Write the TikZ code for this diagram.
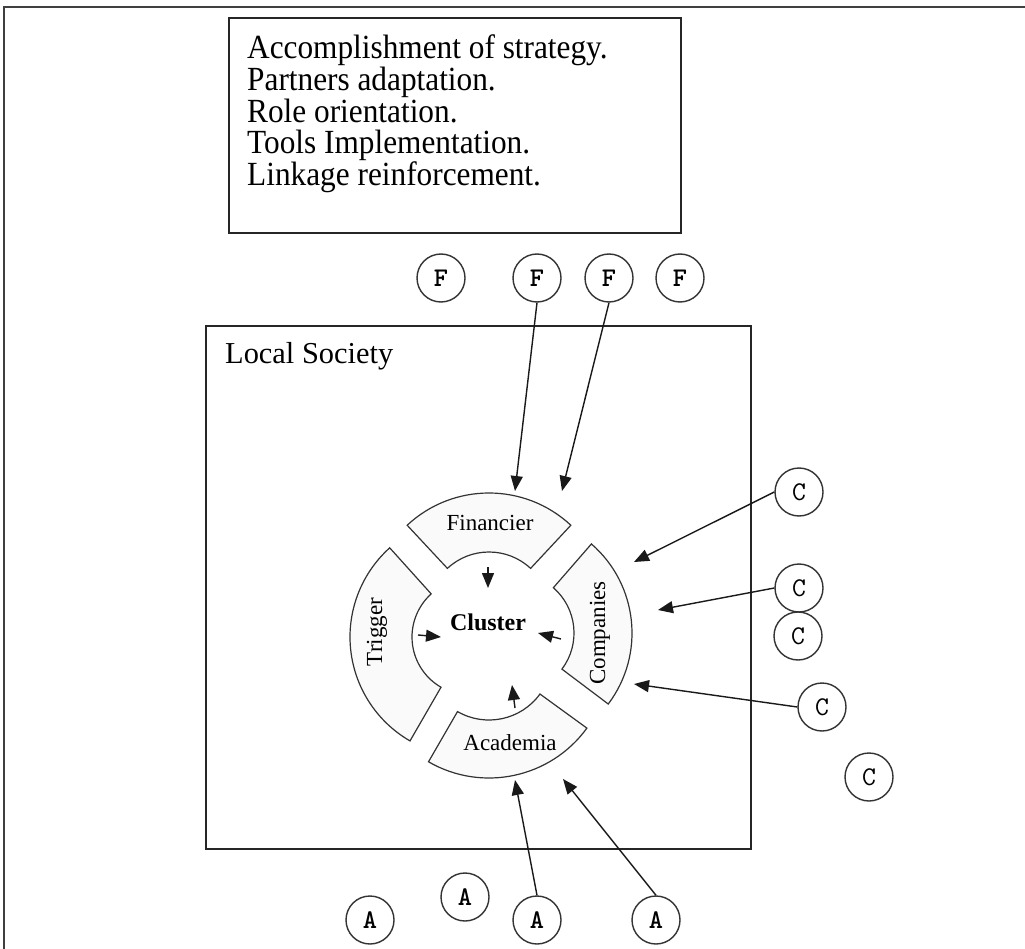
\documentclass[tikz,border=0pt]{standalone}
\usepackage{fontspec}
\usepackage{graphicx}
\setmainfont{Liberation Serif}
\usetikzlibrary{arrows.meta}
\begin{document}
\begin{tikzpicture}[x=1pt,y=-1pt,
  edgeline/.style={draw=black!75, line width=2pt},
  panel/.style={draw=black!85, line width=1.8pt, rectangle, inner sep=0pt},
  ring/.style={draw=black!80, line width=1.2pt, fill=black!2},
  token/.style={circle, draw=black!80, line width=1.4pt, minimum size=48pt,
    inner sep=0pt, fill=white, font=\ttfamily\fontsize{27}{27}\selectfont},
  boldtoken/.style={token, font=\ttfamily\bfseries\fontsize{27}{27}\selectfont},
  link/.style={draw=black!90, line width=1.4pt, -{Triangle[length=15pt,width=12pt]}},
  word/.style={inner sep=0pt, font=\fontsize{23}{23}\selectfont},
]
\useasboundingbox (0,0) rectangle (1025,949);
\fill[white] (0,0) rectangle (1025,949);
% page edges
\draw[edgeline] (4,949) -- (4,7) -- (1025,7);

% goals box
\node[panel, minimum width=452pt, minimum height=215pt, anchor=north west] (goals) at (228,17) {};
\node[anchor=north west, inner sep=0pt] (goaltext) at (247,35)
  {\scalebox{1}[1.08]{\parbox[t]{420pt}{\raggedright\fontsize{31.3}{29.3}\selectfont
   Accomplishment of strategy.\\Partners adaptation.\\Role orientation.\\Tools Implementation.\\Linkage reinforcement.}}};

% local society frame
\node[panel, minimum width=545pt, minimum height=523pt, anchor=north west] (society) at (205,325) {};
\node[anchor=base west, inner sep=0pt, font=\fontsize{30.4}{30}\selectfont] (societytext) at (225,363) {Local Society};

% ring segments around the cluster
\path[ring, shift={(489,613)}] (-133:120) arc[start angle=-133, end angle=-47, radius=120]
  -- (-47:61) arc[start angle=-47, end angle=-133, radius=61] -- cycle;
\path[ring, shift={(514,633)}] (-49:118) arc[start angle=-49, end angle=37, radius=118]
  -- (37:60) arc[start angle=37, end angle=-49, radius=60] -- cycle;
\path[ring, shift={(470,637)}] (120:120) arc[start angle=120, end angle=228, radius=120]
  -- (228:58) arc[start angle=228, end angle=120, radius=58] -- cycle;
\path[ring, shift={(489,657)}] (36:121) arc[start angle=36, end angle=120, radius=121]
  -- (120:63) arc[start angle=120, end angle=36, radius=63] -- cycle;

\node[word, anchor=base] (fin) at (490,530) {Financier};
\node[word, anchor=base] (aca) at (510,750) {Academia};
\node[word, anchor=base, rotate=90] (trg) at (382,632) {Trigger};
\node[word, anchor=base, rotate=90] (com) at (605,633) {Companies};
\node[inner sep=0pt, anchor=base, font=\bfseries\fontsize{24}{24}\selectfont] (cluster) at (488,630) {Cluster};

% inner arrows towards the cluster
\coordinate (finA) at (488,567); \coordinate (finB) at (488,588);
\coordinate (trgA) at (418,635); \coordinate (trgB) at (441,637);
\coordinate (comA) at (561,639); \coordinate (comB) at (538,633);
\coordinate (acaA) at (515,708); \coordinate (acaB) at (512,685);
\draw[link] (finA) -- (finB);
\draw[link] (trgA) -- (trgB);
\draw[link] (comA) -- (comB);
\draw[link] (acaA) -- (acaB);

% financiers
\node[boldtoken] (F1) at (441,278) {F};
\node[boldtoken] (F2) at (537,278) {F};
\node[boldtoken] (F3) at (609,278) {F};
\node[boldtoken] (F4) at (680,278) {F};

% companies
\node[token] (C1) at (799,492) {C};
\node[token] (C2) at (799,588) {C};
\node[token] (C3) at (798,636) {C};
\node[token] (C4) at (822,707) {C};
\node[token] (C5) at (869,777) {C};

% academia
\node[boldtoken] (A1) at (370,920) {A};
\node[boldtoken] (A2) at (465,897) {A};
\node[boldtoken] (A3) at (537,920) {A};
\node[boldtoken] (A4) at (656,920) {A};

% outer arrows
\coordinate (tF2) at (515,491);
\coordinate (tF3) at (562,491);
\coordinate (tC1) at (634,562);
\coordinate (tC2) at (658,610);
\coordinate (tC4) at (634,684);
\coordinate (tA3) at (515,780);
\coordinate (tA4) at (563,779);
\draw[link] (F2.south) -- (tF2);
\draw[link] (F3.south) -- (tF3);
\draw[link] (C1.west) -- (tC1);
\draw[link] (C2.west) -- (tC2);
\draw[link] (C4.west) -- (tC4);
\draw[link] (A3.north) -- (tA3);
\draw[link] (A4.north) -- (tA4);
\end{tikzpicture}
\end{document}
